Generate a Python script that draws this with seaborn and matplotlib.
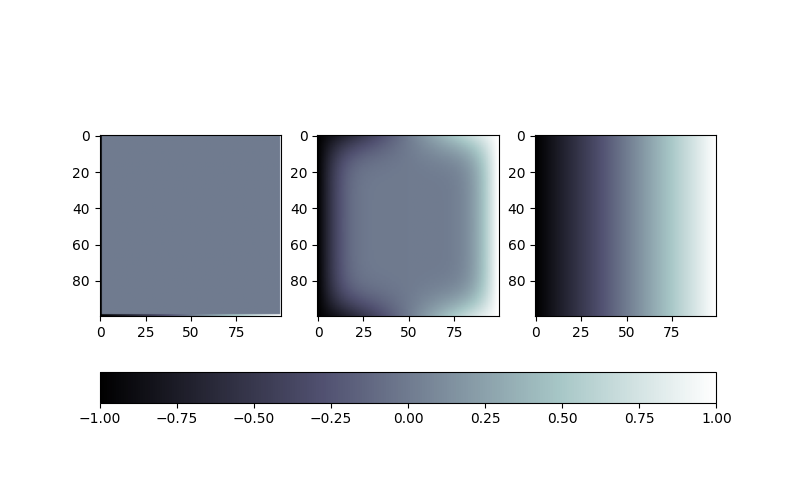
"""
Relaxation of a square plate: start, partway and steady state,
sharing one horizontal colour bar.
"""

import numpy as np
import matplotlib
matplotlib.use("Agg")
import matplotlib.pyplot as plt
import seaborn as sns

# grid and boundary values
grid_size = 100
left_value = -1.0
right_value = 1.0
interior_start = 0.0
middle_iterations = 250
colorbar_ticks = [-1.0, -0.75, -0.5, -0.25, 0.0, 0.25, 0.5, 0.75, 1.0]


def boundary_profile():
    # top and bottom rows run straight from the left value to the right one
    return np.linspace(left_value, right_value, grid_size)


def initial_field():
    field = np.full((grid_size, grid_size), interior_start)
    field[0, :] = boundary_profile()
    field[-1, :] = boundary_profile()
    field[:, 0] = left_value
    field[:, -1] = right_value
    return field


def relax(field, steps):
    """Jacobi sweeps with the edges held fixed."""
    u = field.copy()
    for _ in range(steps):
        u[1:-1, 1:-1] = 0.25 * (u[:-2, 1:-1] + u[2:, 1:-1]
                                + u[1:-1, :-2] + u[1:-1, 2:])
    return u


def main():
    start = initial_field()
    middle = relax(start, middle_iterations)
    # steady state of this problem is the straight profile in every row
    steady = np.tile(boundary_profile(), (grid_size, 1))

    cmap = sns.color_palette("bone", as_cmap=True)

    fig, axes = plt.subplots(1, 3, figsize=(7.96, 4.8), dpi=100)
    for ax, field in zip(axes, [start, middle, steady]):
        im = ax.imshow(field, cmap=cmap, vmin=-1, vmax=1)
        ax.set_xticks([0, 25, 50, 75])
        ax.set_yticks([0, 20, 40, 60, 80])

    cbar = fig.colorbar(im, ax=axes, orientation="horizontal")
    cbar.set_ticks(colorbar_ticks)

    fig.savefig("out.png", dpi=100)


if __name__ == "__main__":
    main()
